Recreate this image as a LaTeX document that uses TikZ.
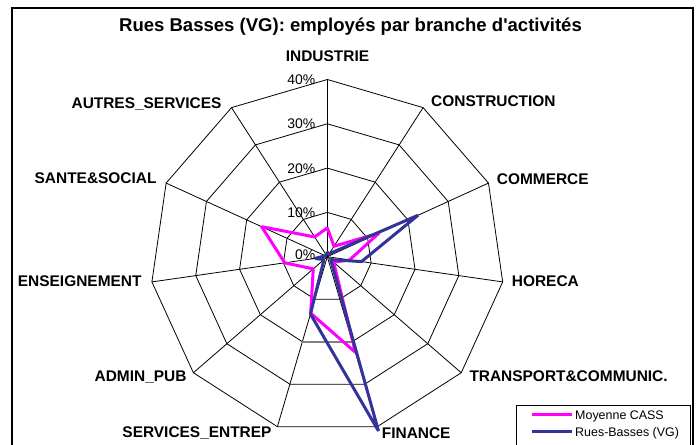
\documentclass[tikz,border=0pt]{standalone}
\usepackage{fontspec}
\setmainfont{Liberation Sans}
\newfontfamily\titlefont{Liberation Sans}
\definecolor{navyb}{RGB}{51,51,153}
\definecolor{magb}{RGB}{255,0,255}
\begin{document}
\begin{tikzpicture}[x=1bp,y=1bp,
  grid/.style={black,line width=0.8bp},
  axlabel/.style={font=\bfseries\fontsize{15.5}{18}\selectfont,inner sep=0pt,text height=11bp,text depth=0pt},
  ticklabel/.style={font=\fontsize{14}{16}\selectfont,inner sep=0pt,text height=10bp,text depth=0pt,anchor=east},
  serieA/.style={draw=magb,line width=3bp,line join=bevel},
  serieB/.style={draw=navyb,line width=3bp,line join=bevel},
  legtext/.style={font=\fontsize{12.5}{15}\selectfont,inner sep=0pt,anchor=west,text height=9bp,text depth=0pt},
]
\useasboundingbox (0,0) rectangle (699,445);
% frame
\draw[black,line width=1.4bp] (12,-5) -- (12,437) -- (693,437) -- (693,-5);
% title
\node[font=\titlefont\bfseries\fontsize{18.6}{22}\selectfont,inner sep=0pt,text height=13bp,text depth=0pt] (title) at (350.5,420) {Rues Basses (VG): employés par branche d'activités};
\begin{scope}[shift={(327.3,188.3)}]
  \foreach \k in {0,...,10} \coordinate (A\k) at ({90-\k*360/11}:177.2);
  \foreach \r in {1,2,3,4}
    \draw[grid] (90:\r*44.3) \foreach \k in {1,...,10}{ -- ({90-\k*360/11}:\r*44.3)} -- cycle;
  \coordinate (O) at (0,0);
  \foreach \k in {0,...,10} \draw[grid] (O) -- (A\k);
  \coordinate (G5) at ({90-5*360/11}:88.6);
  \coordinate (G6) at ({90-6*360/11}:88.6);
  \draw[gray,line width=2bp] (G5) -- (G6);
  % data
  \foreach \v [count=\k from 0] in {6.5,2.8,12.8,5.1,1.9,22.5,13.3,4.2,9.7,16.3,5.3}
    \coordinate (M\k) at ({90-\k*360/11}:\v*4.43);
  \foreach \v [count=\k from 0] in {1.0,0.8,22.5,7.8,1.0,41.0,13.5,1.0,2.8,0.5,0.5}
    \coordinate (B\k) at ({90-\k*360/11}:\v*4.43);
  \draw[serieA] (M0)--(M1)--(M2)--(M3)--(M4)--(M5)--(M6)--(M7)--(M8)--(M9)--(M10)--cycle;
  \draw[serieB] (B0)--(B1)--(B2)--(B3)--(B4)--(B5)--(B6)--(B7)--(B8)--(B9)--(B10)--cycle;
  % tick labels
  \node[ticklabel] (t0) at (-11.8,1.7) {0\%};
  \node[ticklabel] (t1) at (-11.8,44.3) {10\%};
  \node[ticklabel] (t2) at (-11.8,88.6) {20\%};
  \node[ticklabel] (t3) at (-11.8,132.9) {30\%};
  \node[ticklabel] (t4) at (-11.8,177.2) {40\%};
\end{scope}
% axis labels
\node[axlabel] (l0) at (327.5,389) {INDUSTRIE};
\node[axlabel,anchor=west] (l1) at (431,344) {CONSTRUCTION};
\node[axlabel,anchor=west] (l2) at (496.7,265.7) {COMMERCE};
\node[axlabel,anchor=west] (l3) at (511.7,164) {HORECA};
\node[axlabel,anchor=west] (l4) at (469.3,69) {TRANSPORT\&COMMUNIC.};
\node[axlabel,anchor=west] (l5) at (381.7,12) {FINANCE};
\node[axlabel,anchor=east] (l6) at (271.7,13.3) {SERVICES\_ENTREP};
\node[axlabel,anchor=east] (l7) at (186.7,69) {ADMIN\_PUB};
\node[axlabel,anchor=east] (l8) at (141.7,164) {ENSEIGNEMENT};
\node[axlabel,anchor=east] (l9) at (156.7,266.7) {SANTE\&SOCIAL};
\node[axlabel,anchor=east] (l10) at (221.7,342.3) {AUTRES\_SERVICES};
% legend
\draw[black,line width=1bp] (516,-5) -- (516,39) -- (690,39) -- (690,-5);
\coordinate (la1) at (532,30); \coordinate (la2) at (572,30);
\coordinate (lb1) at (532,13); \coordinate (lb2) at (572,13);
\draw[draw=magb,line width=3bp] (la1) -- (la2);
\draw[draw=navyb,line width=3bp] (lb1) -- (lb2);
\node[legtext] (lt1) at (575,30) {Moyenne CASS};
\node[legtext] (lt2) at (575,13) {Rues-Basses (VG)};
\end{tikzpicture}
\end{document}
